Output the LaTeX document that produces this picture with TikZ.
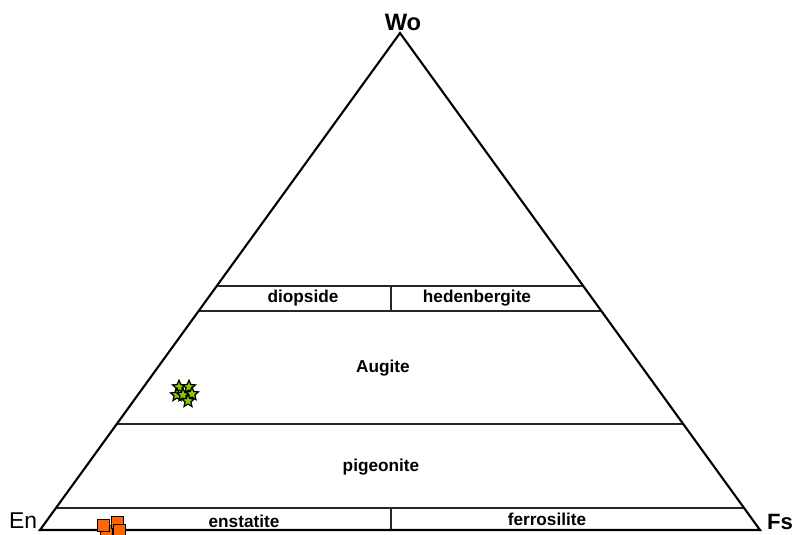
\documentclass[tikz,border=0pt]{standalone}
\usepackage{fontspec}
\setmainfont{Liberation Sans}
\usetikzlibrary{calc,shapes.geometric}

\definecolor{enorange}{RGB}{255,102,0}
\definecolor{augreen}{RGB}{140,200,0}

\tikzset{
    field/.style={line width=1pt, black!85},
    mineral/.style={font=\fontsize{9.8}{11}\selectfont\bfseries, inner sep=0pt},
    corner/.style={font=\fontsize{13}{15}\selectfont, inner sep=0pt},
    starmark/.style={star, star points=5, star point ratio=2.2, draw=black, fill=augreen,
        line width=0.7pt, minimum size=0.27cm, inner sep=0pt},
    squaremark/.style={rectangle, draw=black, fill=enorange, line width=0.5pt,
        minimum size=0.24cm, inner sep=0pt}
}

\begin{document}
\begin{tikzpicture}[x=0.02cm, y=-0.02cm]
        \useasboundingbox (0,0) rectangle (794,534);
        
        %corners of the triangle
        \coordinate (Wo) at (400,33);
        \coordinate (En) at (40,530);
        \coordinate (Fs) at (760,530);
        
        %the main figure starts
        
        \draw [field] ($(En)!0.491!(Wo)$) -- ($(Fs)!0.491!(Wo)$);
        \draw [field] ($(En)!0.4406!(Wo)$) -- ($(Fs)!0.4406!(Wo)$);
        \draw [field] ($(En)!0.2133!(Wo)$) -- ($(Fs)!0.2133!(Wo)$);
        \draw [field] ($(En)!0.0443!(Wo)$) -- ($(Fs)!0.0443!(Wo)$);
        \draw [field] (391,286) -- (391,311);
        \draw [field] (391,508) -- (391,530);
        
        \draw [line width=1.2pt, line join=miter] (En) -- (Wo) -- (Fs) -- cycle;
        
        \node [corner, font=\fontsize{13.5}{15}\selectfont\bfseries] (wolab) at (403,22) {Wo};
        \node [corner] (enlab) at (23,521) {En};
        \node [corner, font=\fontsize{12.6}{15}\selectfont\bfseries] (fslab) at (780,522) {Fs};
        
        \node [mineral] (diop) at (303,298) {diopside};
        \node [mineral] (hed) at (477,298) {hedenbergite};
        \node [mineral] (aug) at (383,368) {Augite};
        \node [mineral] (pig) at (381,467) {pigeonite};
        \node [mineral] (ens) at (244,521) {enstatite};
        \node [mineral] (fer) at (547,519) {ferrosilite};
        
        %analyses
        \foreach \x/\y [count=\i] in {179/387, 189/387, 177/395, 183/395, 192/394, 188/401}
            \node [starmark] (aug\i) at (\x,\y) {};
        \foreach \x/\y [count=\i] in {106/531, 103.5/525, 117/522.5, 119/530}
            \node [squaremark] (ens\i) at (\x,\y) {};
        
    \end{tikzpicture}
\end{document}
